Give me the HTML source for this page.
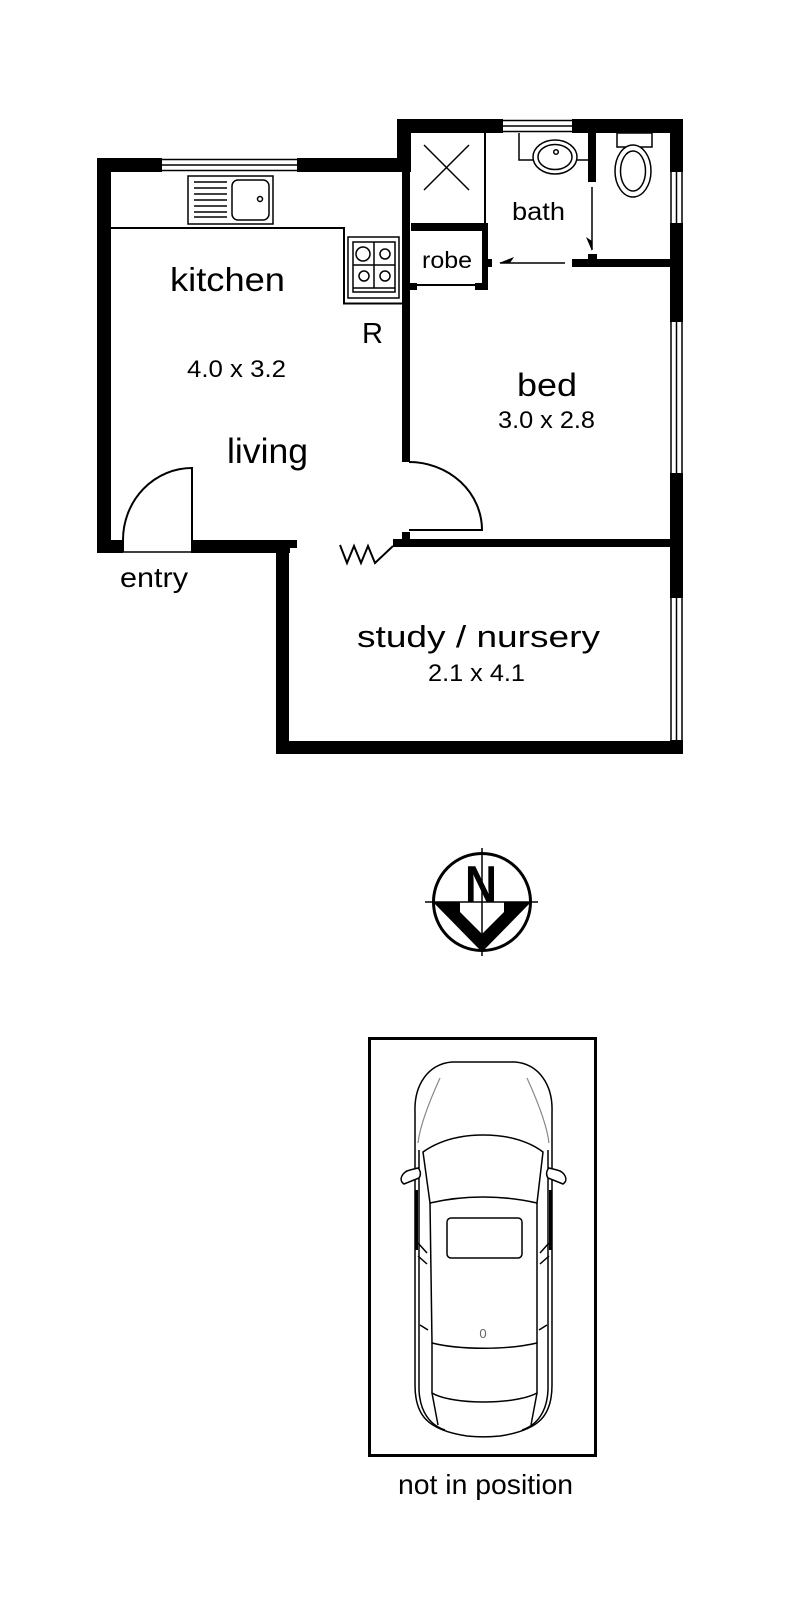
<!DOCTYPE html>
<html><head><meta charset="utf-8"><style>
html,body{margin:0;padding:0;background:#fff;}
svg{display:block;}
text{font-family:"Liberation Sans",Arial,sans-serif;fill:#000;}
</style></head><body>
<svg width="797" height="1600" viewBox="0 0 797 1600" xmlns="http://www.w3.org/2000/svg">
<rect x="0" y="0" width="797" height="1600" fill="#fff"/>
<g fill="#000">
<!-- kitchen outer walls -->
<rect x="97" y="158" width="14" height="395"/>
<rect x="97" y="158" width="65" height="14"/>
<rect x="297" y="158" width="114" height="14"/>
<!-- bath block -->
<rect x="397" y="119" width="14" height="53"/>
<rect x="397" y="119" width="106" height="14"/>
<rect x="572" y="119" width="111" height="14"/>
<rect x="402" y="172" width="8" height="290"/>
<!-- right wall -->
<rect x="670" y="119" width="13" height="53"/>
<rect x="670" y="223" width="13" height="99"/>
<rect x="670" y="473" width="13" height="125"/>
<rect x="670" y="740" width="13" height="14"/>
<!-- bath/bed wall -->
<rect x="572" y="259" width="100" height="8"/>
<rect x="588" y="254" width="9" height="8"/>
<rect x="588" y="133" width="8" height="49"/>
<rect x="484" y="133" width="2" height="90"/>
<!-- robe -->
<rect x="411" y="223" width="77" height="8"/>
<rect x="482" y="223" width="6" height="67"/>
<rect x="411" y="284" width="71" height="2"/>
<rect x="409" y="283" width="8" height="7"/>
<rect x="475" y="283" width="13" height="7"/>
<rect x="488" y="259" width="4" height="8"/>
<!-- bottom walls -->
<rect x="97" y="540" width="26" height="13"/>
<rect x="192" y="540" width="98" height="13"/>
<rect x="276" y="540" width="21" height="8"/>
<rect x="276" y="540" width="13" height="214"/>
<rect x="276" y="741" width="407" height="13"/>
<rect x="393" y="539" width="290" height="8"/>
<rect x="402" y="532" width="8" height="8"/>
</g>

<g fill="none" stroke="#000" stroke-width="1.5">
<!-- kitchen window -->
<line x1="162" y1="159.5" x2="297" y2="159.5"/>
<line x1="162" y1="165" x2="297" y2="165"/>
<line x1="162" y1="170.5" x2="297" y2="170.5"/>
<!-- bath window -->
<line x1="503" y1="120.5" x2="572" y2="120.5"/>
<line x1="503" y1="126" x2="572" y2="126"/>
<line x1="503" y1="131.5" x2="572" y2="131.5"/>
<!-- right windows -->
<g>
<line x1="671" y1="172" x2="671" y2="223"/><line x1="676.5" y1="172" x2="676.5" y2="223"/><line x1="682" y1="172" x2="682" y2="223"/>
<line x1="671" y1="322" x2="671" y2="473"/><line x1="676.5" y1="322" x2="676.5" y2="473"/><line x1="682" y1="322" x2="682" y2="473"/>
<line x1="671" y1="598" x2="671" y2="740"/><line x1="676.5" y1="598" x2="676.5" y2="740"/><line x1="682" y1="598" x2="682" y2="740"/>
</g>
</g>

<!-- counter -->
<polyline points="111,228 344,228 344,303.5 402,303.5" fill="none" stroke="#000" stroke-width="2"/>
<!-- sink -->
<g fill="none" stroke="#000" stroke-width="1.5">
<rect x="188" y="176" width="85" height="48"/>
<rect x="232" y="180" width="37" height="40" rx="6"/>
<circle cx="260" cy="199" r="2.5"/>
</g>
<g stroke="#000" stroke-width="1.5">
<line x1="194" y1="182" x2="227" y2="182"/>
<line x1="194" y1="188" x2="227" y2="188"/>
<line x1="194" y1="194" x2="227" y2="194"/>
<line x1="194" y1="200" x2="227" y2="200"/>
<line x1="194" y1="206" x2="227" y2="206"/>
<line x1="194" y1="212" x2="227" y2="212"/>
<line x1="194" y1="217" x2="227" y2="217"/>
</g>
<!-- stove -->
<g fill="none" stroke="#000" stroke-width="1.5">
<rect x="348" y="237" width="51" height="61"/>
<rect x="353" y="242" width="42" height="50"/>
<line x1="353" y1="288" x2="395" y2="288"/>
<line x1="374" y1="242" x2="374" y2="288"/>
<line x1="353" y1="265" x2="395" y2="265"/>
<circle cx="363" cy="254" r="7" fill="#fff"/>
<circle cx="385" cy="254" r="5" fill="#fff"/>
<circle cx="364" cy="276" r="5" fill="#fff"/>
<circle cx="385" cy="276" r="5" fill="#fff"/>
</g>

<!-- bath fixtures -->
<g fill="none" stroke="#000" stroke-width="1.5">
<polyline points="519,133 519,160 588,160"/>
<ellipse cx="555" cy="157" rx="22" ry="17" fill="#fff"/>
<ellipse cx="555" cy="157" rx="17" ry="12.5"/>
<circle cx="556" cy="152" r="2.3"/>
<rect x="617" y="133" width="35" height="14"/>
<ellipse cx="633" cy="171" rx="18" ry="26" fill="#fff"/>
<ellipse cx="633" cy="171" rx="12.5" ry="20"/>
<!-- shower X -->
<line x1="424" y1="145" x2="469" y2="190"/>
<line x1="469" y1="145" x2="424" y2="190"/>
</g>
<!-- sliding arrows -->
<line x1="592" y1="187" x2="592" y2="250" stroke="#000" stroke-width="1.5"/>
<polygon points="592,251 586,237 592,241" fill="#000"/>
<line x1="500" y1="263" x2="565" y2="263" stroke="#000" stroke-width="1.5"/>
<polygon points="499,263 514,257 510,263" fill="#000"/>

<!-- entry door -->
<g fill="none" stroke="#000" stroke-width="2">
<line x1="123" y1="552" x2="192" y2="552" stroke-width="1.5"/>
<line x1="192" y1="467" x2="192" y2="553"/>
<path d="M192,468 A69,72 0 0 0 123,540 L123,552"/>
</g>
<!-- bed door -->
<g fill="none" stroke="#000" stroke-width="2">
<path d="M409,462 A73,68 0 0 1 482,530 L409,530"/>
</g>
<!-- zigzag -->
<polyline points="340,545 347,563 354,546 361,563 368,546 375,563 393,546" fill="none" stroke="#000" stroke-width="2"/>

<!-- labels -->
<text x="170" y="291" font-size="33" textLength="115" lengthAdjust="spacingAndGlyphs">kitchen</text>
<text x="362" y="343" font-size="29" textLength="21" lengthAdjust="spacingAndGlyphs">R</text>
<text x="187" y="377" font-size="24" textLength="99" lengthAdjust="spacingAndGlyphs">4.0 x 3.2</text>
<text x="227" y="463" font-size="35" textLength="81" lengthAdjust="spacingAndGlyphs">living</text>
<text x="512" y="220" font-size="25" textLength="53" lengthAdjust="spacingAndGlyphs">bath</text>
<text x="422" y="268" font-size="23" textLength="50" lengthAdjust="spacingAndGlyphs">robe</text>
<text x="517" y="396" font-size="32" textLength="60" lengthAdjust="spacingAndGlyphs">bed</text>
<text x="498" y="428" font-size="24" textLength="97" lengthAdjust="spacingAndGlyphs">3.0 x 2.8</text>
<text x="120" y="587" font-size="28" textLength="68" lengthAdjust="spacingAndGlyphs">entry</text>
<text x="357" y="647" font-size="31" textLength="243" lengthAdjust="spacingAndGlyphs">study / nursery</text>
<text x="428" y="681" font-size="24" textLength="97" lengthAdjust="spacingAndGlyphs">2.1 x 4.1</text>

<!-- compass -->
<circle cx="482" cy="902" r="48.5" fill="none" stroke="#000" stroke-width="3"/>
<polygon points="433,902 460,902 460,912 482,934 504,912 504,902 531,902 482,952" fill="#000"/>
<text x="465" y="902" font-size="52" font-weight="bold" textLength="32" lengthAdjust="spacingAndGlyphs">N</text>
<line x1="482" y1="848" x2="482" y2="956" stroke="#000" stroke-width="1.5"/>
<line x1="425" y1="902" x2="538" y2="902" stroke="#000" stroke-width="1.5"/>

<!-- car space -->
<rect x="369.5" y="1038.5" width="226" height="417" fill="none" stroke="#000" stroke-width="3"/>
<g fill="none" stroke="#000" stroke-width="1.5">
<path d="M415,1112 C414,1085 428,1064 452,1062 L515,1062 C539,1064 553,1085 552,1112 L552,1385 C552,1415 540,1430 500,1436 C490,1437 477,1437 467,1436 C427,1430 415,1415 415,1385 Z"/>
<path d="M423,1152 C440,1140 460,1135 483,1135 C507,1135 527,1140 543,1152 L537,1203 C520,1199 500,1197 483,1197 C466,1197 447,1199 430,1203 Z"/>
<rect x="447" y="1218" width="75" height="40" rx="4"/>
<path d="M432,1343 C460,1350 507,1350 537,1343 L537,1393 C515,1405 452,1405 432,1393 Z"/>
<path d="M430,1203 L432,1343"/>
<path d="M537,1203 L537,1343"/>
<path d="M419,1150 L419,1390 C420,1412 430,1425 445,1430"/>
<path d="M548,1150 L548,1390 C547,1412 537,1425 522,1430"/>
<path d="M432,1393 L438,1425"/>
<path d="M537,1393 L531,1425"/>
<path d="M404,1184 C398,1180 402,1172 410,1170 L418,1168 C421,1171 421,1175 419,1178 Z" fill="#fff"/>
<path d="M563,1184 C569,1180 565,1172 557,1170 L549,1168 C546,1171 546,1175 548,1178 Z" fill="#fff"/>
<path d="M418,1243 L427,1253 M418,1256 L427,1264 M420,1325 L428,1330"/>
<path d="M549,1243 L540,1253 M549,1256 L540,1264 M547,1325 L539,1330"/>
</g>
<g fill="none" stroke="#888" stroke-width="1.2">
<path d="M440,1078 C430,1100 420,1125 418,1143"/>
<path d="M527,1078 C537,1100 547,1125 549,1143"/>
</g>
<line x1="416.5" y1="1190" x2="416.5" y2="1250" stroke="#000" stroke-width="3"/>
<line x1="550.5" y1="1190" x2="550.5" y2="1250" stroke="#000" stroke-width="3"/>
<text x="483" y="1338" font-size="13" fill="#666" text-anchor="middle" style="fill:#666">0</text>

<text x="398" y="1494" font-size="28" textLength="175" lengthAdjust="spacingAndGlyphs">not in position</text>
</svg>
</body></html>
